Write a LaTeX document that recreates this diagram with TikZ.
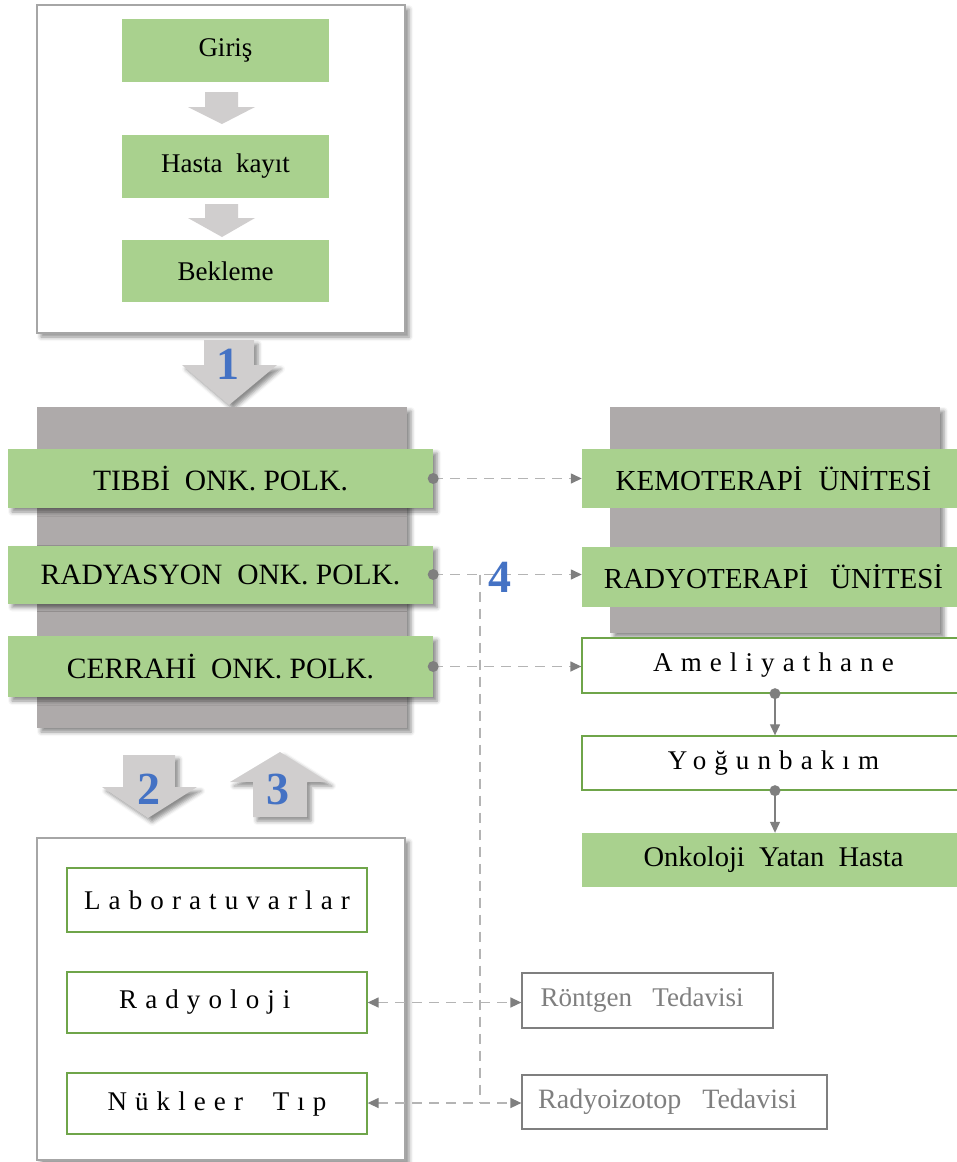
\documentclass[tikz,border=0pt]{standalone}
\usepackage{fontspec}
\setmainfont{Liberation Serif}
\newfontfamily\spacedfont[LetterSpace=30]{Liberation Serif}
\usetikzlibrary{arrows.meta,shadows.blur,calc}

\definecolor{barGreen}{HTML}{A9D18E}
\definecolor{panelGray}{HTML}{AEAAAA}
\definecolor{blockGray}{HTML}{D0CECE}
\definecolor{numBlue}{HTML}{4472C4}
\definecolor{dashGray}{HTML}{B4B4B4}
\definecolor{tipGray}{HTML}{7F7F7F}
\definecolor{edgeGreen}{HTML}{6FA54A}
\definecolor{frameGray}{HTML}{A6A6A6}

% trailing padding that survives the node's final \unskip
\newcommand{\padright}[1]{\hspace{#1}\null}

\tikzset{
  softshadow/.style={blur shadow={shadow xshift=4pt, shadow yshift=-4pt,
      shadow blur radius=4pt, shadow opacity=45}},
  framebox/.style={draw=frameGray, line width=1.4pt, fill=white, softshadow},
  panel/.style={fill=panelGray, draw=none, softshadow},
  greenbar/.style={fill=barGreen, draw=none, inner sep=0pt,
      font=\fontsize{27}{30}\selectfont},
  capsbar/.style={greenbar, font=\fontsize{29.5}{32}\selectfont},
  outlinebox/.style={draw=edgeGreen, line width=1.3pt, fill=white, inner sep=0pt,
      font=\spacedfont\fontsize{27}{30}\selectfont},
  graybox/.style={draw=tipGray, line width=1.2pt, fill=white, inner sep=0pt,
      text=tipGray, font=\fontsize{27}{30}\selectfont},
  smallarrow/.style={fill=blockGray, draw=none},
  blockarrow/.style={fill=blockGray, draw=none, softshadow},
  stepnum/.style={text=numBlue, inner sep=0pt, font=\fontsize{46}{46}\bfseries},
  dashlink/.style={draw=dashGray, line width=1.4pt, dash pattern=on 10pt off 7pt},
  tip/.tip={Triangle[length=11pt,width=10pt,color=tipGray]},
  dot/.style={fill=tipGray},
  solidlink/.style={draw=tipGray, line width=1.2pt},
}

\begin{document}
\begin{tikzpicture}[x=1pt,y=-1pt]
\useasboundingbox (0,0) rectangle (957,1162);

% ---------- entry block ----------
\draw[framebox] (37,5) rectangle (405,333);
\node[greenbar, minimum width=207, minimum height=63] (giris)   at (225.5,50.5) {Giriş};
\node[greenbar, minimum width=207, minimum height=63] (kayit)   at (225.5,166.5) {Hasta~ kayıt};
\node[greenbar, minimum width=207, minimum height=62] (bekleme) at (225.5,271) {Bekleme};

\fill[smallarrow] (205,92) -- (238,92) -- (238,107) -- (255,107) -- (222,124)
   -- (188,107) -- (205,107) -- cycle;
\fill[smallarrow] (205,204) -- (238,204) -- (238,218) -- (255,218) -- (222,237)
   -- (188,218) -- (205,218) -- cycle;

% ---------- step 1 ----------
\fill[blockarrow] (204,340) -- (254,340) -- (254,365) -- (277,365) -- (229,405)
   -- (182,365) -- (204,365) -- cycle;
\node[stepnum] (n1) at (228,364) {1};

% ---------- polyclinics ----------
\fill[panel] (37,407) rectangle (407,728);
\node[capsbar, softshadow, minimum width=425, minimum height=59] (tibbi)     at (220.5,478.5) {TIBBİ~ ONK. POLK.};
\node[capsbar, softshadow, minimum width=425, minimum height=58] (radyasyon) at (220.5,574.5) {RADYASYON~ ONK. POLK.};
\node[capsbar, softshadow, minimum width=425, minimum height=61] (cerrahi)   at (220.5,666.5) {CERRAHİ~ ONK. POLK.};

% ---------- treatment units ----------
\fill[panel] (610,407) rectangle (940,633);
\node[capsbar, font=\fontsize{29}{32}\selectfont, minimum width=383, minimum height=59] (kemo)  at (773.5,478.5) {KEMOTERAPİ\hspace{0.3em} ÜNİTESİ};
\node[capsbar, font=\fontsize{29}{32}\selectfont, minimum width=383, minimum height=60] (radyo) at (773.5,577) {RADYOTERAPİ\hspace{0.5em} ÜNİTESİ};
\node[outlinebox, minimum width=383, minimum height=55] (amel)  at (773.5,665.5) {Ameliyathane};
\node[outlinebox, minimum width=383, minimum height=54] (yogun) at (773.5,763) {Yoğunbakım};
\node[greenbar, font=\fontsize{28.5}{31}\selectfont, minimum width=383, minimum height=54] (yatan) at (773.5,860) {Onkoloji~ Yatan~ Hasta};

% ---------- steps 2 and 3 ----------
\fill[blockarrow] (123,755) -- (175,755) -- (175,787) -- (197,787) -- (148,818)
   -- (102,787) -- (123,787) -- cycle;
\node[stepnum] (n2) at (149,789) {2};
\fill[blockarrow] (253,817) -- (307,817) -- (307,782) -- (328,782) -- (280,752)
   -- (230,782) -- (253,782) -- cycle;
\node[stepnum] (n3) at (278,789) {3};

% ---------- diagnostics ----------
\draw[framebox] (37,838) rectangle (405,1160);
\node[outlinebox, minimum width=300, minimum height=64] (lab) at (217,900) {Laboratuvarlar};
\node[outlinebox, minimum width=300, minimum height=61] (rad) at (217,1002.5) {Radyoloji\padright{0.9em}};
\node[outlinebox, minimum width=300, minimum height=61] (nuk) at (217,1103.5) {Nükleer~ Tıp};

\node[graybox, minimum width=251, minimum height=55] (ront) at (647.5,1000.5) {Röntgen~~ Tedavisi\padright{0.4em}};
\node[graybox, font=\fontsize{28}{31}\selectfont, minimum width=305, minimum height=54] (izo) at (674.5,1102) {Radyoizotop~~ Tedavisi\padright{0.5em}};

% ---------- connectors ----------
\draw[dashlink, -tip] (tibbi.east) -- (tibbi.east -| kemo.west);
\draw[dashlink, -tip] (radyasyon.east) -- (radyasyon.east -| radyo.west);
\draw[dashlink, -tip] (cerrahi.east) -- (cerrahi.east -| amel.west);

\coordinate (branch) at (480,574.5);
\coordinate (joint) at (480,1103);
\draw[dashlink] (branch) -- (joint);

\draw[dashlink, tip-tip] (rad.east) -- (rad.east -| ront.west);
\draw[dashlink, tip-tip] (nuk.east |- joint) -- (joint -| izo.west);

\fill[dot] (tibbi.east) circle (5.5);
\fill[dot] (radyasyon.east) circle (5.5);
\fill[dot] (cerrahi.east) circle (5.5);

\draw[solidlink, -tip] (amel.south -| 775,0) -- (yogun.north -| 775,0);
\draw[solidlink, -tip] (yogun.south -| 775,0) -- (yatan.north -| 775,0);
\fill[dot] (amel.south -| 775,0) circle (5.5);
\fill[dot] (yogun.south -| 775,0) circle (5.5);

\node[stepnum] (n4) at (500,577) {4};
\end{tikzpicture}
\end{document}
